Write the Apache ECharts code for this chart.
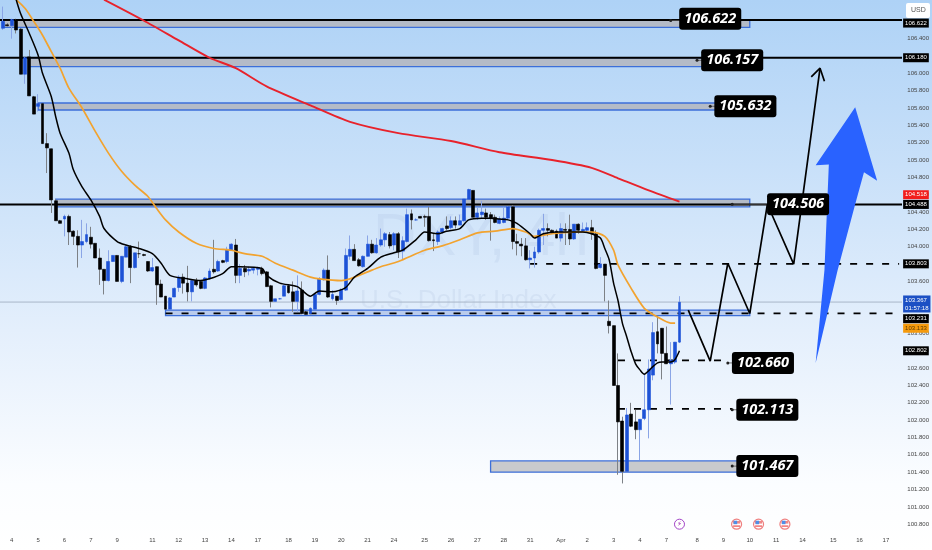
<!DOCTYPE html>
<html><head><meta charset="utf-8"><style>html,body{margin:0;padding:0;background:#fff}#c{width:932px;height:550px}</style>
<script src="https://cdn.jsdelivr.net/npm/echarts@6/dist/echarts.min.js"></script></head>
<body><div id="c"></div><script>
const ohlc=[
[106.52,106.60,106.50,106.77],[106.56,106.55,106.54,106.58],[106.55,106.62,106.40,106.63],[106.62,106.50,106.46,106.63],[106.51,105.99,105.99,106.52],
[105.99,106.18,105.88,106.19],[106.19,105.74,105.74,106.27],[105.73,105.53,105.53,105.74],[105.62,105.65,105.56,105.76],[105.65,105.19,105.19,105.65],
[105.19,105.14,104.85,105.31],[105.13,104.54,104.39,105.13],[104.53,104.30,104.30,104.55],[104.30,104.27,104.27,104.31],[104.32,104.35,104.12,104.37],
[104.35,104.17,104.02,104.37],[104.18,104.12,104.02,104.19],[104.12,104.02,103.76,104.19],[104.02,104.06,103.87,104.31],[104.06,104.14,104.04,104.27],
[104.11,104.03,103.98,104.23],[104.04,103.87,103.87,104.04],[103.87,103.74,103.56,103.98],[103.74,103.61,103.45,103.74],[103.61,103.83,103.60,103.96],
[103.83,103.90,103.83,103.90],[103.90,103.60,103.60,103.90],[103.60,103.89,103.58,103.89],[103.88,104.00,103.88,104.02],[104.00,103.76,103.58,104.02],
[103.76,103.93,103.75,103.93],[103.92,103.92,103.87,104.06],[103.91,103.90,103.89,103.92],[103.83,103.72,103.71,103.83],[103.72,103.76,103.71,103.87],
[103.77,103.56,103.33,103.77],[103.57,103.42,103.42,103.62],[103.43,103.28,103.28,103.43],[103.28,103.41,103.28,103.42],[103.42,103.52,103.42,103.53],
[103.53,103.65,103.48,103.67],[103.65,103.58,103.46,103.69],[103.58,103.48,103.37,103.78],[103.48,103.61,103.37,103.62],[103.61,103.56,103.54,103.64],
[103.60,103.52,103.51,103.61],[103.52,103.64,103.51,103.65],[103.63,103.72,103.62,103.75],[103.74,103.71,103.69,104.08],[103.72,103.83,103.71,103.85],
[103.84,103.82,103.81,103.85],[103.83,103.97,103.81,104.00],[103.96,104.03,103.96,104.04],[104.02,103.67,103.58,104.09],[103.67,103.75,103.58,103.80],
[103.75,103.71,103.65,103.79],[103.72,103.74,103.67,103.77],[103.73,103.75,103.69,103.76],[103.74,103.76,103.67,103.77],[103.74,103.69,103.67,103.77],
[103.71,103.54,103.54,103.72],[103.55,103.37,103.30,103.56],[103.37,103.40,103.37,103.40],[103.40,103.40,103.39,103.41],[103.43,103.55,103.43,103.56],
[103.55,103.47,103.46,103.57],[103.48,103.37,103.25,103.60],[103.37,103.49,103.25,103.67],[103.50,103.23,103.22,103.60],[103.25,103.22,103.22,103.26],
[103.23,103.29,103.23,103.30],[103.28,103.45,103.28,103.46],[103.45,103.63,103.44,103.65],[103.62,103.73,103.61,103.75],[103.73,103.42,103.41,103.90],
[103.40,103.45,103.38,103.50],[103.43,103.38,103.33,103.43],[103.39,103.50,103.38,103.52],[103.50,103.90,103.49,103.98],[103.89,103.97,103.85,104.13],
[103.97,103.84,103.84,104.03],[103.85,103.78,103.77,103.87],[103.77,103.89,103.76,103.90],[103.89,104.03,103.89,104.13],[104.03,103.93,103.92,104.08],
[103.93,104.02,103.92,104.10],[104.02,104.08,104.00,104.21],[104.08,104.15,104.00,104.17],[104.14,104.01,103.98,104.17],[104.02,104.15,103.96,104.17],
[104.15,103.94,103.87,104.17],[103.95,104.07,103.85,104.12],[104.06,104.37,104.05,104.44],[104.38,104.31,104.20,104.43],[104.31,104.31,104.30,104.33],
[104.35,104.33,104.33,104.35],[104.35,104.34,104.23,104.37],[104.35,104.07,104.06,104.46],[104.08,104.07,103.95,104.15],[104.06,104.17,104.02,104.19],
[104.17,104.21,104.15,104.22],[104.24,104.21,104.19,104.35],[104.22,104.30,104.20,104.35],[104.30,104.25,104.21,104.35],[104.25,104.30,104.25,104.37],
[104.30,104.55,104.29,104.56],[104.55,104.66,104.55,104.67],[104.65,104.34,104.34,104.65],[104.34,104.39,104.31,104.45],[104.37,104.40,104.33,104.53],
[104.39,104.34,104.31,104.44],[104.37,104.33,104.07,104.40],[104.34,104.28,104.27,104.37],[104.27,104.32,104.26,104.35],[104.28,104.33,104.27,104.46],
[104.33,104.46,104.32,104.47],[104.46,104.06,103.97,104.48],[104.06,104.04,103.90,104.15],[104.03,104.01,103.89,104.10],[104.01,103.85,103.84,104.10],
[103.85,103.87,103.75,103.96],[103.87,103.94,103.76,104.00],[103.94,104.19,103.92,104.21],[104.19,104.21,104.02,104.38],[104.21,104.19,104.12,104.27],
[104.19,104.17,104.15,104.20],[104.18,104.10,104.10,104.20],[104.10,104.21,104.06,104.27],[104.20,104.19,104.02,104.27],[104.20,104.09,104.02,104.37],
[104.09,104.26,104.08,104.26],[104.26,104.19,104.15,104.27],[104.18,104.20,104.17,104.28],[104.19,104.22,104.17,104.28],[104.22,104.15,104.08,104.31],
[104.15,103.75,103.74,104.19],[103.76,103.80,103.75,103.88],[103.80,103.67,103.37,103.80],[103.14,103.09,103.00,103.38],[103.09,102.40,102.40,103.09],
[102.40,101.98,101.37,102.77],[101.99,101.41,101.27,102.04],[101.41,102.06,101.41,102.14],[102.07,101.93,101.92,102.20],[101.98,101.89,101.78,102.12],
[101.89,102.01,101.54,102.01],[102.02,102.12,102.00,102.54],[102.12,102.59,101.79,102.70],[102.52,103.01,102.46,103.13],[103.02,102.88,102.77,103.21],
[103.06,102.77,102.47,103.06],[102.77,102.65,102.65,103.08],[102.65,102.69,102.18,102.90],[102.67,102.90,102.65,102.90],[102.90,103.36,102.89,103.43]
];
const blackMA=[[3,106.85],[4,106.69],[6,106.46],[8,106.21],[9,106.0],[11,105.73],[12,105.5],[13,105.31],[15,105.08],[16,104.89],[18,104.69],[20,104.54],[22,104.35],[23,104.21],[26,104.06],[28,104.02],[31,103.98],[34,103.92],[36,103.81],[38,103.67],[42,103.63],[45,103.61],[47,103.63],[50,103.69],[52,103.77],[54,103.77],[59,103.75],[60,103.67],[63,103.58],[67,103.54],[70,103.43],[72,103.49],[75,103.48],[78,103.53],[80,103.65],[83,103.75],[86,103.88],[89,103.93],[91,103.96],[94,104.08],[96,104.17],[99,104.15],[101,104.18],[104,104.21],[106,104.31],[109,104.33],[111,104.33],[113,104.32],[115,104.31],[117,104.27],[120,104.15],[121,104.10],[123,104.15],[126,104.17],[128,104.17],[132,104.17],[134,104.15],[136,104.10],[137,103.98],[138,103.85],[139,103.58],[140,103.38],[141,103.12],[142,102.96],[143,102.79],[144,102.65],[145,102.58],[146,102.53],[147,102.57],[148,102.62],[149,102.66],[150,102.67],[152,102.67],[153,102.70],[154,102.80]];
const orangeMA=[[3,106.85],[5,106.75],[7,106.6],[9,106.44],[11,106.25],[13,106.06],[15,105.83],[18,105.6],[21,105.33],[24,105.08],[27,104.87],[30,104.71],[33,104.58],[35,104.44],[37,104.31],[40,104.17],[44,104.04],[48,103.98],[52,103.96],[55,103.92],[59,103.89],[62,103.81],[66,103.73],[70,103.65],[72,103.63],[77,103.61],[79,103.63],[83,103.71],[86,103.77],[90,103.83],[96,103.96],[100,104.01],[104,104.08],[108,104.16],[112,104.18],[116,104.21],[119,104.17],[121,104.12],[125,104.15],[131,104.17],[134,104.17],[137,104.12],[139,103.96],[140,103.79],[143,103.52],[146,103.29],[149,103.19],[152,103.12],[153,103.12]];
const redMA=[[23,106.85],[32,106.61],[40,106.38],[47,106.18],[53,106.06],[60,105.85],[70,105.63],[79,105.44],[90,105.31],[102,105.22],[113,105.09],[125,105.0],[134,104.91],[140,104.79],[147,104.65],[154,104.52]];
const pathZig=[[156,103.27],[161,102.68],[165,103.81],[170,103.23],[174,104.49],[180,103.80],[186,106.06]];
const pathHead=[[184,105.96],[186,106.06],[187,105.91]];
const bigArrow=[[193.8,105.61],[198.8,104.76],[195.6,104.86],[193.8,104.49],[190.2,103.73],[184.7,102.66],[186.5,103.73],[188.1,104.95],[184.5,104.94]];
const xTickIndex=[2,8,14,20,26,34,40,46,52,58,65,71,77,83,89,96,102,108,114,120,127,133,139,145,151,158,164,170,176,182,189,195,201];
const xTickLabel=['4','5','6','7','9','11','12','13','14','17','18','19','20','21','24','25','26','27','28','31','Apr','2','3','4','7','8','9','10','11','14','15','16','17'];
const zoneFrom=[0,6,8,12,37,111];
const zoneTo=[170,160,163,170,170,169];
const zoneTop=[106.61,106.18,105.658,104.55,103.27,101.53];
const zoneBottom=[106.53,106.077,105.577,104.46,103.205,101.40];
const zoneFill=['#b4bbc7','#b4bbc7','#b4bbc7','#b4bbc7','#b9cbec','#c8cacd'];
const solidLevels=[106.615,106.18,104.488];
const dashPrice=[103.231,103.803,102.69,102.13];
const dashFrom=[37,120,140,140];
const dashTo=[204,204,165,166];
const lastPriceLine=103.362;
const badgeIndex=[161,166,169,181,173,174,174];
const badgePrice=[106.63,106.15,105.62,104.49,102.66,102.12,101.47];
const badgeText=['106.622','106.157','105.632','104.506','102.660','102.113','101.467'];
const dotIndex=[152,158,161,166,165,166,166];
const dotPrice=[106.61,106.15,105.62,104.49,102.66,102.12,101.47];
const tagPrice=[106.58,106.18,104.60,104.488,103.803,103.34,103.17,103.06,102.80];
const tagText=['106.622','106.180','104.518','104.488','103.803','103.367\n01:57:18','103.231','103.133','102.802'];
const tagBg=['#000','#000','#f21c1c','#000','#000','#1c50c4','#000','#f59a0c','#000'];
const tagFg=['#fff','#fff','#fff','#fff','#fff','#fff','#fff','#5a3a00','#fff'];
const eventIndex=[154,167,172,178];
const eventType=['bolt','us','us','us'];

const CAT=205;
const cats=Array.from({length:CAT},()=>'' );
xTickIndex.forEach((v,i)=>{cats[v]=xTickLabel[i];});
const last=CAT-1;
const LINE={type:'line',showSymbol:false,symbol:'none',silent:true,animation:false};
const chart=echarts.init(document.getElementById('c'),null,{renderer:'canvas'});
const bodies=ohlc.map(r=>[r[0],r[1],Math.min(r[0],r[1]),Math.max(r[0],r[1])]);
chart.setOption({
 animation:false,
 backgroundColor:{type:'linear',x:0,y:0,x2:0,y2:1,colorStops:[{offset:0,color:'#aed2f6'},{offset:.3,color:'#c8e0f9'},{offset:.6,color:'#e4effc'},{offset:.88,color:'#fbfdff'},{offset:1,color:'#ffffff'}]},
 grid:{left:0,top:0,width:902,height:524.2,containLabel:false},
 xAxis:{type:'category',data:cats,boundaryGap:true,axisLine:{show:false},axisTick:{show:false},splitLine:{show:false},
  axisLabel:{interval:0,margin:13,fontSize:6,color:'#444',fontFamily:'Liberation Sans',hideOverlap:false,showMinLabel:true,showMaxLabel:true}},
 yAxis:{type:'value',position:'right',min:100.8,max:106.846,interval:.2,axisLine:{show:false},axisTick:{show:false},splitLine:{show:false},
  axisLabel:{margin:6,fontSize:6,color:'#444',fontFamily:'Liberation Sans',showMinLabel:true,showMaxLabel:true,formatter:v=>v>106.5?'':v.toFixed(3)}},
 graphic:[
  {type:'text',z:0,left:373,top:208,style:{text:'DXY, 4h',font:'60px "Liberation Sans"',fill:'rgba(90,115,165,0.07)'}},
  {type:'text',z:0,left:360,top:288,style:{text:'U.S. Dollar Index',font:'26px "Liberation Sans"',fill:'rgba(90,115,165,0.08)'}},
  {type:'rect',z:100,shape:{x:906,y:3,width:24,height:15,r:2},style:{fill:'#fff'}},
  {type:'text',z:101,left:911,top:7,style:{text:'USD',font:'7px "Liberation Sans"',fill:'#555'}}
 ],
 series:[
  {type:'custom',z:1,silent:true,clip:true,encode:{x:0,y:1},data:zoneFrom.map((v,i)=>[v,zoneTop[i]]),renderItem:(p,api)=>{
    const i=p.dataIndex,a=api.coord([zoneFrom[i],zoneTop[i]]),b=api.coord([zoneTo[i],zoneBottom[i]]);
    return {type:'rect',shape:{x:a[0],y:a[1],width:b[0]-a[0],height:b[1]-a[1]},style:{fill:zoneFill[i],stroke:'#3c6fd9',lineWidth:1.3}};
  }},
  {type:'custom',z:2,silent:true,clip:true,encode:{x:0,y:1},data:solidLevels.map(v=>[0,v]),renderItem:(p,api)=>{
    const y=api.coord([0,solidLevels[p.dataIndex]])[1];
    return {type:'line',shape:{x1:0,y1:y,x2:902,y2:y},style:{stroke:'#000',lineWidth:2}};
  }},
  {type:'custom',z:2,silent:true,clip:true,encode:{x:0,y:1},data:[[0,lastPriceLine]],renderItem:(p,api)=>{
    const y=api.coord([0,lastPriceLine])[1];
    return {type:'line',shape:{x1:0,y1:y,x2:902,y2:y},style:{stroke:'#a9b6c8',lineWidth:1}};
  }},
  ...dashPrice.map((v,i)=>Object.assign({},LINE,{z:3,data:[[dashFrom[i],v],[dashTo[i],v]],lineStyle:{color:'#000',width:1.7,type:[7,9]}})),
  ...dotPrice.map((v,i)=>Object.assign({},LINE,{z:3,data:[[dotIndex[i],v],[badgeIndex[i],v]],lineStyle:{color:'#555',width:.8}})),
  {type:'candlestick',z:4,silent:true,barWidth:1,data:ohlc,itemStyle:{color:'#8aa5e6',color0:'#7d8186',borderColor:'#8aa5e6',borderColor0:'#7d8186',borderWidth:1}},
  {type:'candlestick',z:5,silent:true,barWidth:3.4,data:bodies,itemStyle:{color:'#1d52d6',color0:'#000',borderColor:'#1d52d6',borderColor0:'#000',borderWidth:.6}},
  Object.assign({},LINE,{z:6,smooth:.25,clip:false,data:orangeMA,lineStyle:{color:'#f2a32f',width:1.7}}),
  Object.assign({},LINE,{z:6,smooth:.25,clip:false,data:blackMA,lineStyle:{color:'#000',width:1.5}}),
  Object.assign({},LINE,{z:6,smooth:.25,clip:false,data:redMA,lineStyle:{color:'#e8222b',width:1.9}}),
  Object.assign({},LINE,{z:7,data:pathZig,lineStyle:{color:'#000',width:1.7}}),
  Object.assign({},LINE,{z:7,data:pathHead,lineStyle:{color:'#000',width:1.7}}),
  {type:'custom',z:8,silent:true,clip:false,encode:{x:0,y:1},data:[bigArrow[0]],renderItem:(p,api)=>({
    type:'polygon',shape:{points:bigArrow.map(q=>api.coord(q))},style:{fill:'#2962ff'}
  })},
  {type:'scatter',z:9,silent:true,symbolSize:3,itemStyle:{color:'#222',opacity:1},data:dotIndex.map((v,i)=>[v,dotPrice[i]])},
  {type:'scatter',z:10,silent:true,symbolSize:1,itemStyle:{color:'transparent',opacity:1},data:badgeIndex.map((v,i)=>({value:[v,badgePrice[i]],label:{formatter:badgeText[i]}})),
    label:{show:true,position:'inside',color:'#fff',backgroundColor:'#000',borderRadius:3,padding:[4,5,3,5],fontSize:14.5,fontWeight:'bold',fontStyle:'italic',fontFamily:'Open Sans'}},
  {type:'scatter',z:11,silent:true,symbolSize:1,clip:false,itemStyle:{color:'transparent',opacity:1},data:tagPrice.map((v,i)=>({value:[last,v],label:{formatter:tagText[i],backgroundColor:tagBg[i],color:tagFg[i]}})),
    label:{show:true,position:'right',distance:3.5,align:'left',lineHeight:8,padding:[1,2,0,2],fontSize:6,fontFamily:'Liberation Sans'}},
  {type:'custom',z:12,silent:true,clip:false,encode:{x:0,y:1},data:eventIndex.map(v=>[v,100.8]),renderItem:(p,api)=>{
    const c=api.coord([eventIndex[p.dataIndex],100.8]),k=eventType[p.dataIndex];
    if(k==='bolt')return {type:'group',children:[
      {type:'circle',shape:{cx:c[0],cy:c[1],r:5},style:{fill:'#fff',stroke:'#a243c7',lineWidth:1}},
      {type:'text',style:{text:'⚡',x:c[0],y:c[1],align:'center',verticalAlign:'middle',font:'7px "DejaVu Sans"',fill:'#9c27b0'}}]};
    return {type:'group',children:[
      {type:'circle',shape:{cx:c[0],cy:c[1],r:5},style:{fill:'#fff',stroke:'#ef7f7f',lineWidth:1.2}},
      {type:'rect',shape:{x:c[0]-3.5,y:c[1]-3.2,width:7,height:2.6},style:{fill:'#e88'}},
      {type:'rect',shape:{x:c[0]-3.5,y:c[1]+1.2,width:7,height:1.4},style:{fill:'#e66'}},
      {type:'rect',shape:{x:c[0]-3,y:c[1]-3.5,width:3.6,height:3.5},style:{fill:'#4f8fe8'}}]};
  }}
 ]
});
</script></body></html>
